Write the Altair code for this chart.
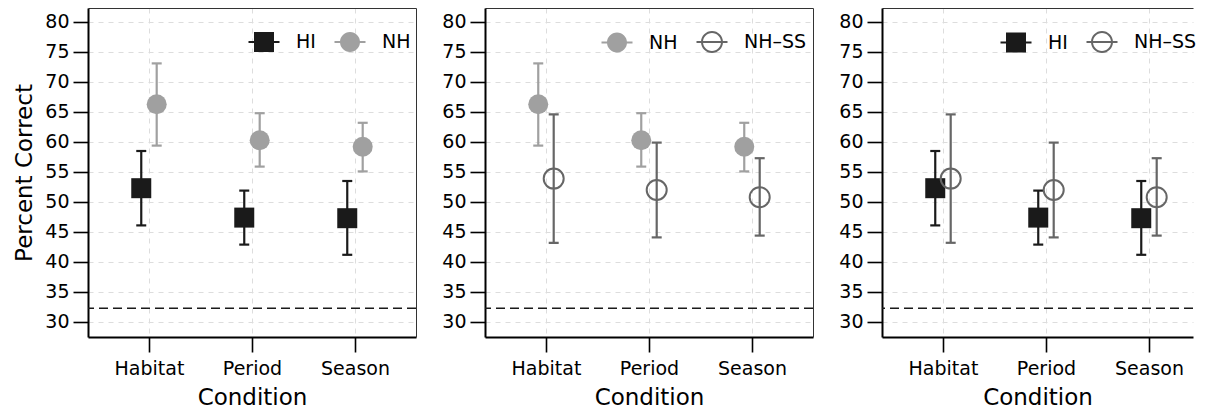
import altair as alt
import pandas as pd

# ---- data ----
conditions = ["Habitat", "Period", "Season"]
groups = ["HI", "NH", "NH–SS"]

hi_mean = [52.3, 47.4, 47.3]
hi_low = [46.1, 42.9, 41.2]
hi_high = [58.5, 51.9, 53.5]

nh_mean = [66.3, 60.3, 59.2]
nh_low = [59.4, 55.9, 55.1]
nh_high = [73.1, 64.8, 63.2]

ss_mean = [53.9, 52.0, 50.8]
ss_low = [43.2, 44.1, 44.4]
ss_high = [64.6, 59.9, 57.3]

chance_level = [32.3]
panel_groups = [["HI", "NH"], ["NH", "NH–SS"], ["HI", "NH–SS"]]
y_ticks = [30, 35, 40, 45, 50, 55, 60, 65, 70, 75, 80]

# ---- styles ----
FONT = "DejaVu Sans"
colors = {"HI": "#1a1a1a", "NH": "#a0a0a0", "NH–SS": "#666666"}
line_bar = "M-1.55,-0.1H1.55V0.1H-1.55Z"
legend_paths = {
    "HI": "M-1,-1H1V1H-1Z " + line_bar,
    "NH": "M-1,0A1,1,0,1,1,1,0A1,1,0,1,1,-1,0Z " + line_bar,
    "NH–SS": "M-1.1,0A1.1,1.1,0,1,1,1.1,0A1.1,1.1,0,1,1,-1.1,0Z "
             "M-0.9,0A0.9,0.9,0,1,0,0.9,0A0.9,0.9,0,1,0,-0.9,0Z " + line_bar,
}
legend_x = [166, 122, 124]
dodge = 0.075

series = {
    "HI": (hi_mean, hi_low, hi_high),
    "NH": (nh_mean, nh_low, nh_high),
    "NH–SS": (ss_mean, ss_low, ss_high),
}

rows = []
for p, grp in enumerate(panel_groups):
    for j, g in enumerate(grp):
        side = -dodge if j == 0 else dodge
        m, lo, hi = series[g]
        for i, c in enumerate(conditions):
            rows.append(dict(panel=p, group=g, cond=c, x=i + 1 + side,
                             mean=m[i], lo=lo[i], hi=hi[i]))
df = pd.DataFrame(rows)

label_expr = "[" + ",".join("'%s'" % c for c in conditions) + "][datum.value - 1]"

H = 329
STEP = 103.0           # px per category
X0 = 0.408             # left end of the x domain
widths = [328, 328, 311]   # the last panel runs off the page in the original
y_scale = alt.Scale(domain=[27.5, 82.333], nice=False, zero=False)

frame = dict(labels=False, ticks=False, grid=False, title=None,
             domainColor="#333333", domainWidth=1)


def make_panel(p):
    sub = df[df.panel == p]
    grp = panel_groups[p]
    W = widths[p]
    x_scale = alt.Scale(domain=[X0, X0 + W / STEP], nice=False, zero=False)
    X_axis = alt.X("x:Q", scale=x_scale, axis=alt.Axis(
        values=[1, 2, 3], labelExpr=label_expr, title="Condition"))
    X_plain = alt.X("x:Q", scale=x_scale, axis=None)
    X_top = alt.X("x:Q", scale=x_scale, axis=alt.Axis(orient="top", **frame))

    y_left = alt.Axis(values=y_ticks, title="Percent Correct" if p == 0 else "")
    y_right = alt.Axis(orient="right", **frame)

    def Y(field, axis=None):
        if axis is None:
            return alt.Y(field, type="quantitative", scale=y_scale, axis=None)
        return alt.Y(field, type="quantitative", scale=y_scale, axis=axis)

    layers = []
    chance = alt.Chart(pd.DataFrame({"level": chance_level})).mark_rule(
        color="#1a1a1a", strokeWidth=1.5, strokeDash=[9, 5]
    ).encode(y=Y("level", y_left))
    layers.append(chance)

    for k, g in enumerate(grp):
        gd = sub[sub.group == g]
        base = alt.Chart(gd)
        if k == 0:
            rule_y = Y("lo", y_right) if p < 2 else Y("lo")
            rule = base.mark_rule(color=colors[g], strokeWidth=2.2).encode(
                x=X_axis, y=rule_y, y2="hi")
        else:
            rule = base.mark_rule(color=colors[g], strokeWidth=2.2).encode(
                x=X_plain, y=Y("lo"), y2="hi")
        layers.append(rule)
        cap_x = X_top if k == 0 else X_plain
        layers.append(base.transform_fold(["lo", "hi"], as_=["end", "val"]).mark_tick(
            orient="horizontal", size=10, thickness=2.2, color=colors[g], opacity=1
        ).encode(x=cap_x, y=Y("val")))
    for g in grp:
        gd = sub[sub.group == g]
        base = alt.Chart(gd)
        if g == "HI":
            mk = base.mark_point(shape="square", filled=True, size=400,
                                 color=colors[g], opacity=1)
        elif g == "NH":
            mk = base.mark_point(shape="circle", filled=True, size=400,
                                 color=colors[g], opacity=1)
        else:
            mk = base.mark_point(shape="circle", filled=False, size=400,
                                 stroke=colors[g], strokeWidth=2, opacity=1)
        layers.append(mk.encode(x=X_plain, y=Y("mean")))

    leg = alt.Legend(title=None, orient="none", legendX=legend_x[p], legendY=24,
                     direction="horizontal", symbolSize=400, symbolStrokeWidth=0,
                     labelFont=FONT, labelFontSize=19, labelColor="black",
                     labelOffset=22, columnPadding=18)
    legend_layer = alt.Chart(sub).transform_filter("false").mark_point(
        filled=True, size=400, opacity=1
    ).encode(
        x=X_plain, y=Y("mean"),
        color=alt.Color("group:N", scale=alt.Scale(domain=grp, range=[colors[g] for g in grp]), legend=leg),
        shape=alt.Shape("group:N", scale=alt.Scale(domain=grp, range=[legend_paths[g] for g in grp]), legend=leg),
    )
    layers.append(legend_layer)
    chart = alt.layer(*layers).properties(width=W, height=H).resolve_axis(
        x="independent", y="independent")
    return chart


chart = alt.hconcat(*[make_panel(p) for p in range(3)], spacing=24).resolve_scale(
    color="independent", shape="independent"
).resolve_legend(
    color="independent", shape="independent"
).properties(
    padding={"left": 5, "top": 0, "right": 0, "bottom": 0}
).configure_view(
    stroke="transparent", strokeWidth=0
).configure_axis(
    labelFont=FONT, labelFontSize=19, labelColor="black",
    titleFont=FONT, titleFontSize=23, titleFontWeight="normal", titleColor="black",
    domainColor="black", domainWidth=2,
    tickColor="black", tickWidth=1.6, tickSize=15,
    labelPadding=4,
    grid=True, gridColor="#dddddd", gridDash=[5, 5], gridWidth=1,
).configure_axisY(titlePadding=8).configure_axisX(titlePadding=8, labelPadding=7)

chart.save("out.html", embed_options={"renderer": "svg", "actions": False})
